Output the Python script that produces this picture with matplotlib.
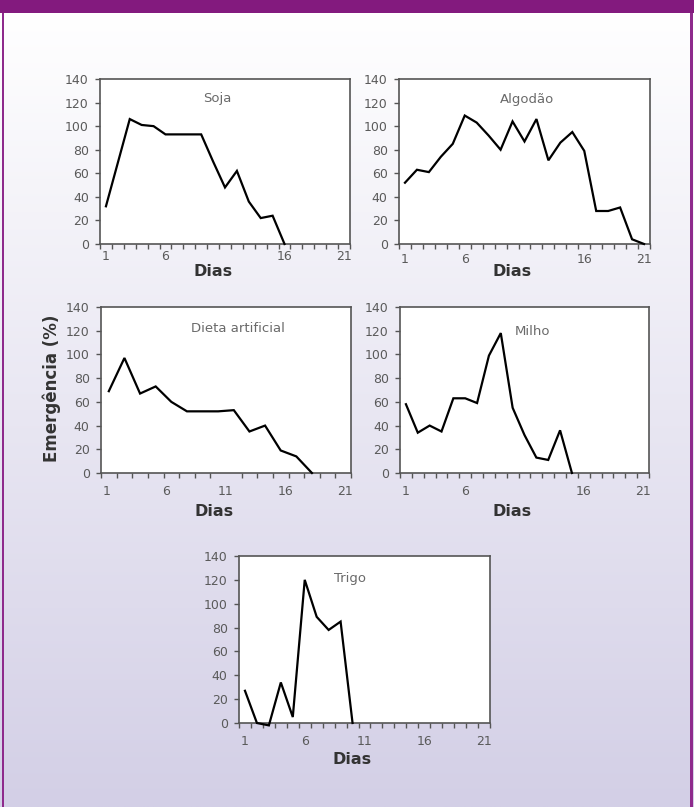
import numpy as np
import matplotlib
matplotlib.use("Agg")
import matplotlib.pyplot as plt
from matplotlib.patches import Rectangle

plt.rcParams['font.family'] = ['DejaVu Sans']

# ---- data ----
soja = [32, 69, 106, 101, 100, 93, 93, 93, 93, 70, 48, 62, 36, 22, 24, 0]
algodao = [52, 63, 61, 74, 85, 109, 103, 92, 80, 104, 87, 106, 71, 86, 95, 79, 28, 28, 31, 4, 0]
dieta = [69, 97, 67, 73, 60, 52, 52, 52, 53, 35, 40, 19, 14, 0]
milho = [58, 34, 40, 35, 63, 63, 59, 99, 118, 55, 32, 13, 11, 36, 0]
trigo = [27, 0, -2, 34, 5, 120, 89, 78, 85, 0]

titles = ["Soja", "Algodão", "Dieta artificial", "Milho", "Trigo"]
yticks = [0, 20, 40, 60, 80, 100, 120, 140]
n_days = 21
n_cat_dieta = 16
xlabels_full = [1, 6, 11, 16, 21]
xlabels_short = [1, 6, 16, 21]

W, H = 694, 807
fig = plt.figure(figsize=(W / 100, H / 100), dpi=100)

def fx(x):
    return x / W

def fy(y):
    return 1 - y / H

def rect(l, t, r, b):
    return [fx(l), fy(b), fx(r) - fx(l), fy(t) - fy(b)]

# background gradient
bg = fig.add_axes([0, 0, 1, 1], zorder=-10)
top_c = np.array([255, 255, 255]) / 255
bot_c = np.array([211, 207, 230]) / 255
t = np.linspace(0, 1, 400)[:, None]
grad = (1 - t) * top_c + t * bot_c
bg.imshow(grad[:, None, :].repeat(2, axis=1), aspect='auto', extent=[0, 1, 0, fy(13)],
          origin='upper')
bg.set_xlim(0, 1)
bg.set_ylim(0, 1)
bg.axis('off')
purple = '#831a7e'
bg.add_patch(Rectangle((0, fy(13)), 1, 1 - fy(13), color=purple, lw=0))
bg.add_patch(Rectangle((fx(2), 0), fx(2), fy(13), color='#8e2a8c', lw=0))
bg.add_patch(Rectangle((fx(690), 0), fx(2.5), fy(13), color='#8e2a8c', lw=0))

tick_col = '#5a5a5a'
spine_col = '#555555'

panels = [
    # (data, box, title pos (axes frac), dieta?, labels, label pad, dias y px)
    (soja, (100, 79, 350, 244), (0.468, 0.879), False, xlabels_short, 4.0, 271),
    (algodao, (399, 79, 650, 244), (0.51, 0.873), False, xlabels_short, 6.3, 271),
    (dieta, (101, 307, 351, 473), (0.548, 0.873), True, xlabels_full, 8.4, 512),
    (milho, (400, 307, 649, 473), (0.534, 0.855), False, xlabels_short, 8.6, 512),
    (trigo, (239, 556, 490, 723), (0.442, 0.868), False, xlabels_full, 8.4, 760),
]

for (vals, box, tpos, is_dieta, labs, pad, dias_y), title in zip(panels, titles):
    l, tp, r, b = box
    ax = fig.add_axes(rect(l, tp, r, b))
    ax.set_facecolor('white')
    if is_dieta:
        xs = np.arange(len(vals)) + 0.5
        ax.set_xlim(0, n_cat_dieta)
        ax.set_xticks(np.arange(0, n_cat_dieta + 1), minor=True)
        scale = n_cat_dieta / n_days
        ax.set_xticks([(d - 0.5) * scale for d in labs])
    else:
        xs = np.arange(1, len(vals) + 1)
        ax.set_xlim(0.5, n_days + 0.5)
        ax.set_xticks(np.arange(0.5, n_days + 1.5, 1), minor=True)
        ax.set_xticks(labs)
    ax.set_xticklabels([str(d) for d in labs])
    ax.plot(xs, vals, color='black', lw=1.6, clip_on=False, solid_joinstyle='miter', zorder=3)
    ax.set_ylim(0, 140)
    ax.set_yticks(yticks)
    ax.tick_params(axis='x', which='major', length=0, pad=pad, labelsize=9, labelcolor=tick_col)
    ax.tick_params(axis='x', which='minor', length=3.5, width=1.0, color=spine_col, direction='out')
    ax.tick_params(axis='y', which='major', length=3.6, width=1.0, color=spine_col, pad=4.5,
                   labelsize=9, labelcolor=tick_col, direction='out')
    for s in ax.spines.values():
        s.set_color(spine_col)
        s.set_linewidth(1.2)
    ax.text(tpos[0], tpos[1], title, transform=ax.transAxes, ha='center', va='center',
            fontsize=9.5, color='#6a6a6a')
    cx = (l + r) / 2 - 12
    fig.text(fx(cx), fy(dias_y), "Dias", ha='center', va='center', fontsize=11.5,
             fontweight='bold', color='#333333')

fig.text(fx(52), fy(388), "Emergência (%)", rotation=90, ha='center', va='center',
         fontsize=12, fontweight='bold', color='#333333')

fig.savefig("out.png", dpi=100)
